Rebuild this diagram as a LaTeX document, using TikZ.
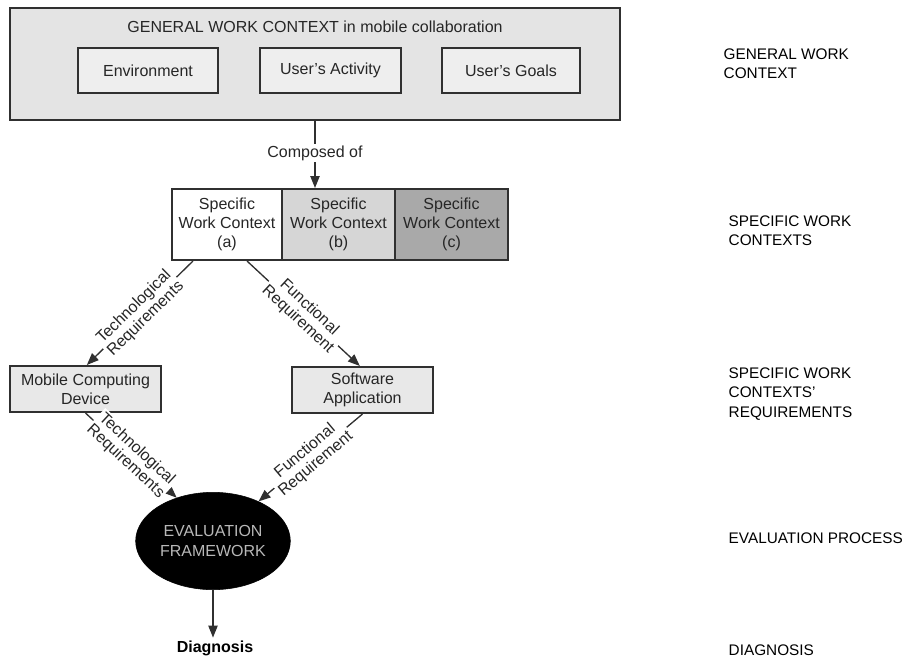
\documentclass[tikz,border=0pt]{standalone}
\usepackage{fontspec}
\setmainfont{Liberation Sans}
\usetikzlibrary{arrows.meta,shapes.geometric}

\definecolor{ink}{HTML}{262626}
\definecolor{edgecol}{HTML}{303030}
\definecolor{outerfill}{HTML}{E4E4E4}
\definecolor{innerfill}{HTML}{EEEEEE}
\definecolor{reqfill}{HTML}{E8E8E8}
\definecolor{midgray}{HTML}{D6D6D6}
\definecolor{darkgray}{HTML}{A9A9A9}
\definecolor{evaltext}{HTML}{B8B8B8}

\begin{document}
\begin{tikzpicture}[x=0.75pt,y=-0.75pt,
  font=\fontsize{12}{14.4}\selectfont, text=ink,
  box/.style={draw=edgecol, line width=1.5pt, align=center, inner sep=0pt},
  wire/.style={draw=edgecol, line width=1pt},
  conn/.style={wire, -{Triangle[length=9pt,width=7pt]}},
  lbl/.style={fill=white, inner sep=1pt, align=center, sloped,
    font=\fontsize{12}{12.6}\selectfont},
  side/.style={anchor=west, align=left, text=black,
    font=\fontsize{11.5}{14.4}\selectfont}]

\useasboundingbox (0,0) rectangle (908,658);

% general work context
\node[box, fill=outerfill, minimum width=457.5pt, minimum height=84pt] (gen) at (315,64) {};
\node (gentitle) at (315,27) {GENERAL WORK CONTEXT in mobile collaboration};
\node[box, fill=innerfill, minimum width=105pt, minimum height=33.75pt] (env) at (148,70.5) {Environment};
\node[box, fill=innerfill, minimum width=105.75pt, minimum height=33.75pt] (act) at (330.5,70.5) {User's Activity};
\node[box, fill=innerfill, minimum width=103.5pt, minimum height=33.75pt] (goal) at (511,70.5) {User's Goals};

% specific work contexts
\node[box, fill=white, minimum width=82.5pt, minimum height=53.25pt] (speca) at (227,224.5) {Specific\\Work Context\\(a)};
\node[box, fill=midgray, minimum width=84.75pt, minimum height=53.25pt] (specb) at (338.5,224.5) {Specific\\Work Context\\(b)};
\node[box, fill=darkgray, minimum width=84.75pt, minimum height=53.25pt] (specc) at (451.5,224.5) {Specific\\Work Context\\(c)};

\node[inner sep=1pt] (comp) at (315,153) {Composed of};
\draw[wire] (gen.south -| comp) -- (comp.north);
\draw[conn] (comp.south) -- (comp.south |- specb.north);

% requirements
\node[box, fill=reqfill, minimum width=113.25pt, minimum height=34.5pt] (mob) at (85.5,389) {Mobile Computing\\Device};
\node[box, fill=reqfill, minimum width=105.75pt, minimum height=34.5pt] (soft) at (362.5,390) {Software\\Application};

\draw[conn] ([xshift=-25.5pt]speca.south) -- node[lbl] {Technological\\Requirements} ([xshift=1pt]mob.north);
\draw[conn] ([xshift=15pt]speca.south) -- node[lbl] {Functional\\Requirement} ([xshift=-2pt]soft.north);

% evaluation
\node[ellipse, fill=black, draw=black, minimum width=116pt, minimum height=73pt,
  text=evaltext, align=center, inner sep=0pt] (eval) at (213,541) {EVALUATION\\FRAMEWORK};

\draw[conn] (mob.south) -- node[lbl] {Technological\\Requirements} (eval.130);
\draw[conn] (soft.south) -- node[lbl] {Functional\\Requirement} (eval.41);

\node[font=\fontsize{12}{14.4}\selectfont\bfseries, text=black, inner sep=2pt] (diag) at (215,648) {Diagnosis};
\draw[conn] (eval.south) -- (eval.south |- diag.north);

% level captions
\node[side] (capgen) at (719,63.5) {GENERAL WORK\\CONTEXT};
\node[side] (capspec) at (724,231) {SPECIFIC WORK\\CONTEXTS};
\node[side] (capreq) at (724,394) {SPECIFIC WORK\\CONTEXTS'\\REQUIREMENTS};
\node[side] (capeval) at (724,538) {EVALUATION PROCESS};
\node[side] (capdiag) at (724,650) {DIAGNOSIS};
\end{tikzpicture}
\end{document}
